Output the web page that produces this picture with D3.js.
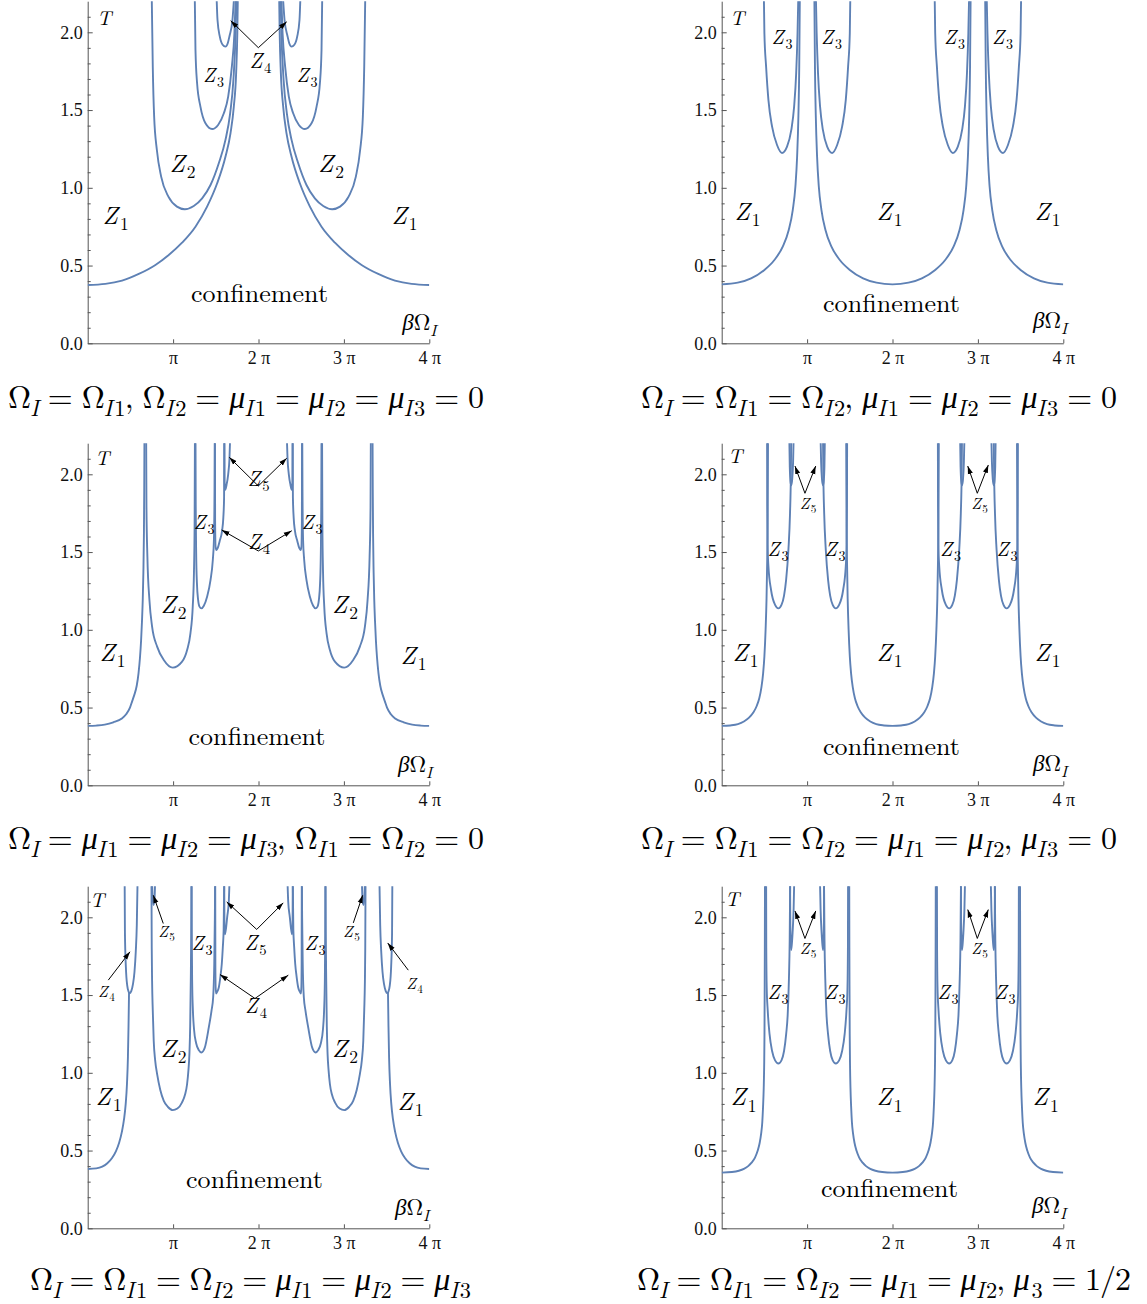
<!DOCTYPE html>
<html>
<head>
<meta charset="utf-8">
<title>Z_N phase diagrams</title>
<style>
  body { margin: 0; background: #fff; }
  svg { display: block; }
</style>
</head>
<body>
<div id="chart"></div>
<script src="https://d3js.org/d3.v7.min.js"></script>
<script>
// x values are in units of pi, y values are T

// ---- ticks
const xTickVals = [1, 2, 3, 4];
const xTickLabels = ["π", "2 π", "3 π", "4 π"];
const yMajor = [0, 0.5, 1, 1.5, 2];
const yMajorLabels = ["0.0", "0.5", "1.0", "1.5", "2.0"];
const yMinor = [0.1, 0.2, 0.3, 0.4, 0.6, 0.7, 0.8, 0.9, 1.1, 1.2, 1.3, 1.4, 1.6, 1.7, 1.8, 1.9, 2.1];

// ---- panel 1
const p1Z1a = [[0,0.375],[0.207,0.382],[0.402,0.403],[0.598,0.446],[0.793,0.504],[0.949,0.568],[1.105,0.647],[1.262,0.75],[1.398,0.879],[1.516,1.029],[1.613,1.2],[1.672,1.35],[1.711,1.522],[1.738,1.736],[1.752,1.994],[1.76,2.3]];
const p1Z1b = [[2.24,2.3],[2.248,1.994],[2.262,1.736],[2.289,1.522],[2.328,1.35],[2.387,1.2],[2.484,1.029],[2.602,0.879],[2.738,0.75],[2.895,0.647],[3.051,0.568],[3.207,0.504],[3.402,0.446],[3.598,0.403],[3.793,0.382],[4,0.375]];
const p1Z2a = [[0.748,2.3],[0.762,1.779],[0.778,1.458],[0.81,1.243],[0.86,1.072],[0.945,0.943],[1.045,0.879],[1.137,0.862],[1.242,0.883],[1.34,0.932],[1.438,1.018],[1.535,1.158],[1.613,1.308],[1.668,1.479],[1.706,1.693],[1.732,1.994],[1.745,2.3]];
const p1Z2b = [[2.255,2.3],[2.268,1.994],[2.294,1.693],[2.332,1.479],[2.387,1.308],[2.465,1.158],[2.562,1.018],[2.66,0.932],[2.758,0.883],[2.863,0.862],[2.955,0.879],[3.055,0.943],[3.14,1.072],[3.19,1.243],[3.222,1.458],[3.238,1.779],[3.252,2.3]];
const p1Z3a = [[1.252,2.3],[1.262,1.886],[1.281,1.672],[1.32,1.522],[1.379,1.415],[1.457,1.378],[1.527,1.404],[1.594,1.479],[1.645,1.586],[1.688,1.779],[1.718,1.994],[1.738,2.3]];
const p1Z3b = [[2.262,2.3],[2.282,1.994],[2.312,1.779],[2.355,1.586],[2.406,1.479],[2.473,1.404],[2.543,1.378],[2.621,1.415],[2.68,1.522],[2.719,1.672],[2.738,1.886],[2.748,2.3]];
const p1Z4a = [[1.505,2.3],[1.52,2.079],[1.547,1.972],[1.58,1.92],[1.613,1.908],[1.64,1.93],[1.66,1.975],[1.695,2.079],[1.722,2.3]];
const p1Z4b = [[2.278,2.3],[2.305,2.079],[2.34,1.975],[2.36,1.93],[2.387,1.908],[2.42,1.92],[2.453,1.972],[2.48,2.079],[2.495,2.3]];

// ---- panel 2
const p2Z1a = [[0,0.379],[0.1875,0.39],[0.344,0.418],[0.5,0.472],[0.617,0.536],[0.715,0.622],[0.785,0.729],[0.832,0.857],[0.863,1.008],[0.883,1.2],[0.898,1.458],[0.908,1.779],[0.916,2.3]];
const p2Z1b = [[1.084,2.3],[1.092,1.779],[1.102,1.458],[1.117,1.2],[1.137,1.008],[1.168,0.857],[1.215,0.729],[1.285,0.622],[1.383,0.536],[1.5,0.472],[1.656,0.418],[1.8125,0.39],[2,0.379],[2.1875,0.39],[2.344,0.418],[2.5,0.472],[2.617,0.536],[2.715,0.622],[2.785,0.729],[2.832,0.857],[2.863,1.008],[2.883,1.2],[2.898,1.458],[2.908,1.779],[2.916,2.3]];
const p2Z1c = [[3.084,2.3],[3.092,1.779],[3.102,1.458],[3.117,1.2],[3.137,1.008],[3.168,0.857],[3.215,0.729],[3.285,0.622],[3.383,0.536],[3.5,0.472],[3.656,0.418],[3.8125,0.39],[4,0.379]];
const p2Z3a = [[0.492,2.3],[0.5,1.994],[0.52,1.779],[0.547,1.565],[0.59,1.393],[0.648,1.275],[0.706,1.224],[0.765,1.265],[0.815,1.372],[0.848,1.522],[0.872,1.736],[0.888,1.994],[0.9,2.3]];
const p2Z3b = [[1.1,2.3],[1.112,1.994],[1.128,1.736],[1.152,1.522],[1.185,1.372],[1.235,1.265],[1.294,1.224],[1.352,1.275],[1.41,1.393],[1.453,1.565],[1.48,1.779],[1.5,1.994],[1.508,2.3]];
const p2Z3c = [[2.492,2.3],[2.5,1.994],[2.52,1.779],[2.547,1.565],[2.59,1.393],[2.648,1.275],[2.706,1.224],[2.765,1.265],[2.815,1.372],[2.848,1.522],[2.872,1.736],[2.888,1.994],[2.9,2.3]];
const p2Z3d = [[3.1,2.3],[3.112,1.994],[3.128,1.736],[3.152,1.522],[3.185,1.372],[3.235,1.265],[3.294,1.224],[3.352,1.275],[3.41,1.393],[3.453,1.565],[3.48,1.779],[3.5,1.994],[3.508,2.3]];

// ---- panel 3
const p3Z1a = [[0,0.382],[0.1,0.384],[0.2,0.39],[0.3,0.405],[0.4,0.43],[0.45,0.457],[0.495,0.5],[0.52,0.54],[0.545,0.58],[0.574,0.64],[0.595,0.72],[0.612,0.82],[0.625,0.93],[0.636,1.06],[0.645,1.2],[0.652,1.37],[0.658,1.6],[0.662,1.9],[0.665,2.3]];
const p3Z1b = [[3.335,2.3],[3.338,1.9],[3.342,1.6],[3.348,1.37],[3.355,1.2],[3.364,1.06],[3.375,0.93],[3.388,0.82],[3.405,0.72],[3.426,0.64],[3.455,0.58],[3.48,0.54],[3.505,0.5],[3.55,0.457],[3.6,0.43],[3.7,0.405],[3.8,0.39],[3.9,0.384],[4,0.382]];
const p3Z2a = [[0.684,2.3],[0.688,1.79],[0.699,1.47],[0.723,1.19],[0.754,1.02],[0.813,0.892],[0.891,0.806],[0.996,0.757],[1.105,0.795],[1.164,0.87],[1.203,0.977],[1.23,1.149],[1.244,1.363],[1.252,1.685],[1.256,2.3]];
const p3Z2b = [[2.744,2.3],[2.748,1.685],[2.756,1.363],[2.77,1.149],[2.797,0.977],[2.836,0.87],[2.895,0.795],[3.004,0.757],[3.109,0.806],[3.187,0.892],[3.246,1.02],[3.277,1.19],[3.301,1.47],[3.312,1.79],[3.316,2.3]];
const p3Z3a = [[1.262,2.3],[1.265,1.8],[1.27,1.5],[1.279,1.3],[1.293,1.192],[1.309,1.149],[1.332,1.138],[1.36,1.155],[1.398,1.213],[1.438,1.32],[1.465,1.449],[1.478,1.578],[1.485,1.9],[1.488,2.3]];
const p3Z3b = [[2.512,2.3],[2.515,1.9],[2.522,1.578],[2.535,1.449],[2.562,1.32],[2.602,1.213],[2.64,1.155],[2.668,1.138],[2.691,1.149],[2.707,1.192],[2.721,1.3],[2.73,1.5],[2.735,1.8],[2.738,2.3]];
const p3Z4a = [[1.49,2.3],[1.492,1.7],[1.497,1.535],[1.508,1.513],[1.522,1.525],[1.545,1.57],[1.574,1.64],[1.588,1.72],[1.597,1.85],[1.6,2.3]];
const p3Z4b = [[2.4,2.3],[2.403,1.85],[2.412,1.72],[2.426,1.64],[2.455,1.57],[2.478,1.525],[2.492,1.513],[2.503,1.535],[2.508,1.7],[2.51,2.3]];
const p3Z5a = [[1.6,2.3],[1.603,1.95],[1.61,1.9],[1.625,1.93],[1.645,2.0],[1.66,2.1],[1.672,2.3]];
const p3Z5b = [[2.328,2.3],[2.34,2.1],[2.355,2.0],[2.375,1.93],[2.39,1.9],[2.397,1.95],[2.4,2.3]];

// ---- panel 4
const p4Z1a = [[0,0.382],[0.1,0.385],[0.19,0.393],[0.26,0.41],[0.32,0.435],[0.37,0.468],[0.41,0.51],[0.44,0.56],[0.465,0.63],[0.485,0.72],[0.5,0.83],[0.514,1.0],[0.525,1.2],[0.533,1.45],[0.539,1.75],[0.543,2.3]];
const p4Z1b = [[1.457,2.3],[1.461,1.75],[1.467,1.45],[1.475,1.2],[1.486,1.0],[1.5,0.83],[1.515,0.72],[1.535,0.63],[1.56,0.56],[1.59,0.51],[1.63,0.468],[1.68,0.435],[1.74,0.41],[1.81,0.393],[1.9,0.385],[2,0.382],[2.1,0.385],[2.19,0.393],[2.26,0.41],[2.32,0.435],[2.37,0.468],[2.41,0.51],[2.44,0.56],[2.465,0.63],[2.485,0.72],[2.5,0.83],[2.514,1.0],[2.525,1.2],[2.533,1.45],[2.539,1.75],[2.543,2.3]];
const p4Z1c = [[3.457,2.3],[3.461,1.75],[3.467,1.45],[3.475,1.2],[3.486,1.0],[3.5,0.83],[3.515,0.72],[3.535,0.63],[3.56,0.56],[3.59,0.51],[3.63,0.468],[3.68,0.435],[3.74,0.41],[3.81,0.393],[3.9,0.385],[4,0.382]];
const p4Z3a = [[0.531,2.3],[0.533,1.8],[0.537,1.55],[0.547,1.41],[0.578,1.256],[0.625,1.16],[0.664,1.138],[0.7,1.16],[0.73,1.22],[0.754,1.32],[0.781,1.513],[0.8,1.75],[0.81,2.0],[0.815,2.3]];
const p4Z3b = [[1.185,2.3],[1.19,2.0],[1.2,1.75],[1.219,1.513],[1.246,1.32],[1.27,1.22],[1.3,1.16],[1.336,1.138],[1.375,1.16],[1.422,1.256],[1.453,1.41],[1.463,1.55],[1.467,1.8],[1.469,2.3]];
const p4Z3c = [[2.531,2.3],[2.533,1.8],[2.537,1.55],[2.547,1.41],[2.578,1.256],[2.625,1.16],[2.664,1.138],[2.7,1.16],[2.73,1.22],[2.754,1.32],[2.781,1.513],[2.8,1.75],[2.81,2.0],[2.815,2.3]];
const p4Z3d = [[3.185,2.3],[3.19,2.0],[3.2,1.75],[3.219,1.513],[3.246,1.32],[3.27,1.22],[3.3,1.16],[3.336,1.138],[3.375,1.16],[3.422,1.256],[3.453,1.41],[3.463,1.55],[3.467,1.8],[3.469,2.3]];
const p4Z5a = [[0.79,2.3],[0.797,2.05],[0.806,1.95],[0.815,1.93],[0.826,1.97],[0.836,2.08],[0.845,2.3]];
const p4Z5b = [[1.155,2.3],[1.164,2.08],[1.174,1.97],[1.185,1.93],[1.194,1.95],[1.203,2.05],[1.21,2.3]];
const p4Z5c = [[2.79,2.3],[2.797,2.05],[2.806,1.95],[2.815,1.93],[2.826,1.97],[2.836,2.08],[2.845,2.3]];
const p4Z5d = [[3.155,2.3],[3.164,2.08],[3.174,1.97],[3.185,1.93],[3.194,1.95],[3.203,2.05],[3.21,2.3]];

// ---- panel 5
const p5Z1a = [[0,0.381],[0.1,0.385],[0.17,0.396],[0.23,0.418],[0.285,0.452],[0.33,0.495],[0.368,0.55],[0.4,0.62],[0.425,0.7],[0.445,0.8],[0.46,0.93],[0.471,1.1],[0.478,1.3],[0.484,1.52]];
const p5Z1b = [[3.516,1.52],[3.522,1.3],[3.529,1.1],[3.54,0.93],[3.555,0.8],[3.575,0.7],[3.6,0.62],[3.632,0.55],[3.67,0.495],[3.715,0.452],[3.77,0.418],[3.83,0.396],[3.9,0.385],[4,0.381]];
const p5Z4a = [[0.432,2.3],[0.436,1.9],[0.447,1.68],[0.463,1.56],[0.48,1.52],[0.492,1.512],[0.51,1.525],[0.53,1.57],[0.548,1.65],[0.563,1.78],[0.575,1.95],[0.586,2.3]];
const p5Z4d = [[3.414,2.3],[3.425,1.95],[3.437,1.78],[3.452,1.65],[3.47,1.57],[3.49,1.525],[3.508,1.512],[3.52,1.52],[3.537,1.56],[3.553,1.68],[3.564,1.9],[3.568,2.3]];
const p5Z2a = [[0.746,2.3],[0.75,1.8],[0.754,1.59],[0.762,1.4],[0.773,1.206],[0.79,1.08],[0.813,0.992],[0.85,0.89],[0.891,0.82],[0.94,0.78],[0.996,0.76],[1.05,0.77],[1.105,0.81],[1.14,0.86],[1.164,0.928],[1.18,1.02],[1.191,1.12],[1.2,1.3],[1.207,1.59],[1.212,1.9],[1.215,2.3]];
const p5Z2b = [[2.785,2.3],[2.788,1.9],[2.793,1.59],[2.8,1.3],[2.809,1.12],[2.82,1.02],[2.836,0.928],[2.86,0.86],[2.895,0.81],[2.95,0.77],[3.004,0.76],[3.06,0.78],[3.109,0.82],[3.15,0.89],[3.187,0.992],[3.21,1.08],[3.227,1.206],[3.238,1.4],[3.246,1.59],[3.25,1.8],[3.254,2.3]];
const p5Z5a = [[0.752,2.3],[0.758,2.15],[0.768,2.08],[0.779,2.1],[0.787,2.18],[0.792,2.3]];
const p5Z5d = [[3.208,2.3],[3.213,2.18],[3.221,2.1],[3.232,2.08],[3.242,2.15],[3.248,2.3]];
const p5Z3a = [[1.217,2.3],[1.219,1.9],[1.223,1.59],[1.232,1.4],[1.245,1.28],[1.27,1.19],[1.3,1.146],[1.332,1.131],[1.37,1.16],[1.418,1.292],[1.45,1.4],[1.469,1.485],[1.482,1.7],[1.489,2.0],[1.493,2.3]];
const p5Z3b = [[2.507,2.3],[2.511,2.0],[2.518,1.7],[2.531,1.485],[2.55,1.4],[2.582,1.292],[2.63,1.16],[2.668,1.131],[2.7,1.146],[2.73,1.19],[2.755,1.28],[2.768,1.4],[2.777,1.59],[2.781,1.9],[2.783,2.3]];
const p5Z4b = [[1.493,2.3],[1.495,1.7],[1.498,1.55],[1.504,1.51],[1.515,1.52],[1.535,1.549],[1.555,1.624],[1.57,1.7],[1.582,1.806],[1.592,1.92],[1.6,2.3]];
const p5Z4c = [[2.4,2.3],[2.408,1.92],[2.418,1.806],[2.43,1.7],[2.445,1.624],[2.465,1.549],[2.485,1.52],[2.496,1.51],[2.502,1.55],[2.505,1.7],[2.507,2.3]];
const p5Z5b = [[1.598,2.3],[1.601,1.95],[1.606,1.89],[1.62,1.93],[1.633,2.0],[1.652,2.1],[1.664,2.3]];
const p5Z5c = [[2.336,2.3],[2.348,2.1],[2.367,2.0],[2.38,1.93],[2.394,1.89],[2.399,1.95],[2.402,2.3]];

// ---- panel 6
const p6Z1a = [[0,0.358],[0.12,0.362],[0.2,0.37],[0.26,0.382],[0.31,0.4],[0.35,0.422],[0.39,0.455],[0.422,0.5],[0.445,0.55],[0.461,0.606],[0.475,0.68],[0.484,0.778],[0.492,0.9],[0.497,1.035],[0.501,1.25],[0.503,1.5],[0.505,1.8],[0.507,2.3]];
const p6Z1b = [[1.493,2.3],[1.495,1.8],[1.497,1.5],[1.499,1.25],[1.503,1.035],[1.508,0.9],[1.516,0.778],[1.525,0.68],[1.539,0.606],[1.555,0.55],[1.578,0.5],[1.61,0.455],[1.65,0.422],[1.69,0.4],[1.74,0.382],[1.8,0.37],[1.88,0.362],[2,0.358],[2.12,0.362],[2.2,0.37],[2.26,0.382],[2.31,0.4],[2.35,0.422],[2.39,0.455],[2.422,0.5],[2.445,0.55],[2.461,0.606],[2.475,0.68],[2.484,0.778],[2.492,0.9],[2.497,1.035],[2.501,1.25],[2.503,1.5],[2.505,1.8],[2.507,2.3]];
const p6Z1c = [[3.493,2.3],[3.495,1.8],[3.497,1.5],[3.499,1.25],[3.503,1.035],[3.508,0.9],[3.516,0.778],[3.525,0.68],[3.539,0.606],[3.555,0.55],[3.578,0.5],[3.61,0.455],[3.65,0.422],[3.69,0.4],[3.74,0.382],[3.8,0.37],[3.88,0.362],[4,0.358]];
const p6Z3a = [[0.52,2.3],[0.522,1.8],[0.527,1.55],[0.539,1.4],[0.56,1.25],[0.59,1.14],[0.625,1.08],[0.664,1.06],[0.7,1.08],[0.73,1.14],[0.755,1.25],[0.773,1.377],[0.787,1.6],[0.796,1.85],[0.803,2.3]];
const p6Z3b = [[1.197,2.3],[1.204,1.85],[1.213,1.6],[1.227,1.377],[1.245,1.25],[1.27,1.14],[1.3,1.08],[1.336,1.06],[1.375,1.08],[1.41,1.14],[1.44,1.25],[1.461,1.4],[1.473,1.55],[1.478,1.8],[1.48,2.3]];
const p6Z3c = [[2.52,2.3],[2.522,1.8],[2.527,1.55],[2.539,1.4],[2.56,1.25],[2.59,1.14],[2.625,1.08],[2.664,1.06],[2.7,1.08],[2.73,1.14],[2.755,1.25],[2.773,1.377],[2.787,1.6],[2.796,1.85],[2.803,2.3]];
const p6Z3d = [[3.197,2.3],[3.204,1.85],[3.213,1.6],[3.227,1.377],[3.245,1.25],[3.27,1.14],[3.3,1.08],[3.336,1.06],[3.375,1.08],[3.41,1.14],[3.44,1.25],[3.461,1.4],[3.473,1.55],[3.478,1.8],[3.48,2.3]];
const p6Z5a = [[0.8,2.3],[0.803,2.0],[0.807,1.85],[0.812,1.79],[0.82,1.82],[0.83,1.9],[0.842,2.05],[0.852,2.3]];
const p6Z5b = [[1.148,2.3],[1.158,2.05],[1.17,1.9],[1.18,1.82],[1.188,1.79],[1.193,1.85],[1.197,2.0],[1.2,2.3]];
const p6Z5c = [[2.8,2.3],[2.803,2.0],[2.807,1.85],[2.812,1.79],[2.82,1.82],[2.83,1.9],[2.842,2.05],[2.852,2.3]];
const p6Z5d = [[3.148,2.3],[3.158,2.05],[3.17,1.9],[3.18,1.82],[3.188,1.79],[3.193,1.85],[3.197,2.0],[3.2,2.3]];

// ---- labels: [text, x, T, kind]
const panel1Labels = [["T",0.109,2.05,"axisT"],["Z_{4}",2.023,1.77,"mid"],["Z_{3}",1.473,1.68,"z3"],["Z_{3}",2.568,1.68,"z3"],["Z_{2}",1.11,1.102,"big"],["Z_{2}",2.849,1.102,"big"],["Z_{1}",0.326,0.767,"big"],["Z_{1}",3.71,0.767,"big"],["confinement",2.012,0.266,"conf"],["βΩ_{I}",3.683,0.086,"axisX"]];
const panel2Labels = [["T",0.097,2.05,"axisT"],["Z_{3}",0.706,1.925,"z3"],["Z_{3}",1.286,1.925,"z3"],["Z_{3}",2.726,1.925,"z3"],["Z_{3}",3.288,1.925,"z3"],["Z_{1}",0.302,0.793,"big"],["Z_{1}",1.965,0.793,"big"],["Z_{1}",3.815,0.793,"big"],["confinement",1.988,0.201,"conf"],["βΩ_{I}",3.645,0.098,"axisX"]];
const panel3Labels = [["T",0.085,2.06,"axisT"],["Z_{5}",2.0,1.925,"mid"],["Z_{4}",2.006,1.521,"mid"],["Z_{3}",1.362,1.65,"z3"],["Z_{3}",2.626,1.65,"z3"],["Z_{2}",1.005,1.108,"big"],["Z_{2}",3.013,1.108,"big"],["Z_{1}",0.29,0.799,"big"],["Z_{1}",3.815,0.78,"big"],["confinement",1.982,0.259,"conf"],["βΩ_{I}",3.634,0.086,"axisX"]];
const panel4Labels = [["T",0.074,2.073,"axisT"],["Z_{5}",1.011,1.777,"tiny"],["Z_{5}",3.019,1.777,"tiny"],["Z_{3}",0.659,1.475,"z3"],["Z_{3}",1.327,1.475,"z3"],["Z_{3}",2.679,1.475,"z3"],["Z_{3}",3.341,1.475,"z3"],["Z_{1}",0.279,0.799,"big"],["Z_{1}",1.965,0.799,"big"],["Z_{1}",3.815,0.799,"big"],["confinement",1.988,0.195,"conf"],["βΩ_{I}",3.645,0.092,"axisX"]];
const panel5Labels = [["T",0.027,2.065,"axisT"],["Z_{5}",0.923,1.872,"tiny"],["Z_{3}",1.338,1.789,"z3"],["Z_{5}",1.965,1.789,"mid"],["Z_{3}",2.662,1.789,"z3"],["Z_{5}",3.089,1.872,"tiny"],["Z_{4}",0.22,1.487,"tiny"],["Z_{4}",1.971,1.384,"mid"],["Z_{4}",3.827,1.538,"tiny"],["Z_{2}",1.005,1.101,"big"],["Z_{2}",3.013,1.101,"big"],["Z_{1}",0.244,0.792,"big"],["Z_{1}",3.78,0.76,"big"],["confinement",1.953,0.259,"conf"],["βΩ_{I}",3.598,0.086,"axisX"]];
const panel6Labels = [["T",0.039,2.071,"axisT"],["Z_{5}",1.011,1.763,"tiny"],["Z_{5}",3.019,1.763,"tiny"],["Z_{3}",0.659,1.474,"z3"],["Z_{3}",1.327,1.474,"z3"],["Z_{3}",2.65,1.474,"z3"],["Z_{3}",3.318,1.474,"z3"],["Z_{1}",0.255,0.79,"big"],["Z_{1}",1.965,0.79,"big"],["Z_{1}",3.792,0.79,"big"],["confinement",1.965,0.201,"conf"],["βΩ_{I}",3.633,0.098,"axisX"]];

// ---- arrows: [x from, T from, x tip, T tip]
const panel1Arrows = [[1.998,1.901,1.674,2.075],[1.998,1.901,2.33,2.068]];
const panel2Arrows = [];
const panel3Arrows = [[1.998,1.925,1.658,2.109],[1.998,1.925,2.33,2.103],[1.998,1.507,1.569,1.642],[1.998,1.507,2.389,1.637]];
const panel4Arrows = [[0.975,1.878,0.858,2.053],[0.975,1.878,1.101,2.053],[2.993,1.878,2.881,2.053],[2.993,1.878,3.122,2.06]];
const panel5Arrows = [[0.885,1.96,0.768,2.142],[1.979,1.922,1.628,2.099],[1.979,1.922,2.29,2.093],[3.11,1.964,3.22,2.142],[0.241,1.596,0.495,1.778],[1.959,1.478,1.549,1.632],[1.959,1.478,2.349,1.628],[3.754,1.66,3.513,1.835]];
const panel6Arrows = [[0.975,1.864,0.858,2.041],[0.975,1.864,1.101,2.041],[2.993,1.864,2.881,2.05],[2.993,1.864,3.122,2.05]];

// ---- captions
const captions = [
  "Ω_{I} = Ω_{I1}, Ω_{I2} = μ_{I1} = μ_{I2} = μ_{I3} = 0",
  "Ω_{I} = Ω_{I1} = Ω_{I2}, μ_{I1} = μ_{I2} = μ_{I3} = 0",
  "Ω_{I} = μ_{I1} = μ_{I2} = μ_{I3}, Ω_{I1} = Ω_{I2} = 0",
  "Ω_{I} = Ω_{I1} = Ω_{I2} = μ_{I1} = μ_{I2}, μ_{I3} = 0",
  "Ω_{I} = Ω_{I1} = Ω_{I2} = μ_{I1} = μ_{I2} = μ_{I3}",
  "Ω_{I} = Ω_{I1} = Ω_{I2} = μ_{I1} = μ_{I2}, μ_{3} = 1/2"
];

const panelCurves = [
  [p1Z1a, p1Z1b, p1Z2a, p1Z2b, p1Z3a, p1Z3b, p1Z4a, p1Z4b],
  [p2Z1a, p2Z1b, p2Z1c, p2Z3a, p2Z3b, p2Z3c, p2Z3d],
  [p3Z1a, p3Z1b, p3Z2a, p3Z2b, p3Z3a, p3Z3b, p3Z4a, p3Z4b, p3Z5a, p3Z5b],
  [p4Z1a, p4Z1b, p4Z1c, p4Z3a, p4Z3b, p4Z3c, p4Z3d, p4Z5a, p4Z5b, p4Z5c, p4Z5d],
  [p5Z1a, p5Z1b, p5Z4a, p5Z4d, p5Z2a, p5Z2b, p5Z5a, p5Z5d, p5Z3a, p5Z3b, p5Z4b, p5Z4c, p5Z5b, p5Z5c],
  [p6Z1a, p6Z1b, p6Z1c, p6Z3a, p6Z3b, p6Z3c, p6Z3d, p6Z5a, p6Z5b, p6Z5c, p6Z5d]
];
const panelLabels = [panel1Labels, panel2Labels, panel3Labels, panel4Labels, panel5Labels, panel6Labels];
const panelArrows = [panel1Arrows, panel2Arrows, panel3Arrows, panel4Arrows, panel5Arrows, panel6Arrows];

// layout
const W = 1147, H = 1304;
const plotW = 341.6, unitH = 155.5, tMax = 2.2;
const tickFont = '"Liberation Serif"';
const texFont = '"Latin Modern Roman"';
const layout = [
  {left: 87.7,  base: 343.3,  capX: 8,   capW: 476, capY: 408},
  {left: 721.7, base: 343.3,  capX: 641, capW: 476, capY: 408},
  {left: 87.7,  base: 785.3,  capX: 8,   capW: 476, capY: 849},
  {left: 721.7, base: 785.3,  capX: 641, capW: 476, capY: 849},
  {left: 87.7,  base: 1228.3, capX: 30,  capW: 441, capY: 1290},
  {left: 721.7, base: 1228.3, capX: 637, capW: 494, capY: 1290}
];
const labelStyle = {
  big:   {size: 25, anchor: "middle"},
  mid:   {size: 21, anchor: "middle"},
  z3:    {size: 20, anchor: "middle"},
  tiny:  {size: 16, anchor: "middle"},
  conf:  {size: 26, anchor: "middle", plain: true, len: 137},
  axisT: {size: 20, anchor: "start"},
  axisX: {size: 23, anchor: "start"}
};
const blue = "#5e81b5";

const svg = d3.select("#chart").append("svg")
  .attr("width", W).attr("height", H);

svg.append("defs").append("marker")
  .attr("id", "ah")
  .attr("viewBox", "0 0 10 10")
  .attr("refX", 10).attr("refY", 5)
  .attr("markerWidth", 8).attr("markerHeight", 8)
  .attr("markerUnits", "userSpaceOnUse")
  .attr("orient", "auto")
  .append("path").attr("d", "M0,1.8L10,5L0,8.2z").attr("fill", "#000");

// write math-like text: letters italic, Greek capitals upright, _{..} subscripts
function mathText(sel, str, size) {
  const segs = [];
  let i = 0, sub = false;
  while (i < str.length) {
    if (str.startsWith("_{", i)) { sub = true; i += 2; continue; }
    if (sub && str[i] === "}") { sub = false; i++; continue; }
    const ch = str[i];
    const ital = /[A-Za-zβμ]/.test(ch);
    const last = segs[segs.length - 1];
    if (last && last.sub === sub && last.ital === ital) last.t += ch;
    else segs.push({t: ch, sub: sub, ital: ital});
    i++;
  }
  let down = false;
  segs.forEach((s, k) => {
    const fs = s.sub ? size * 0.7 : size;
    const ts = sel.append("tspan").text(s.t)
      .style("font-family", texFont)
      .style("font-style", s.ital ? "italic" : "normal")
      .style("font-size", fs + "px");
    const prev = segs[k - 1];
    // italic correction: keep an upright glyph clear of a slanted one before it
    if (prev && prev.ital && !s.ital && /^[0-9]/.test(s.t)) ts.attr("dx", fs * 0.12);
    if (s.sub && !down) { ts.attr("dy", size * 0.25); down = true; }
    else if (!s.sub && down) { ts.attr("dy", -size * 0.25); down = false; }
  });
}

panelCurves.forEach((curves, i) => {
  const L = layout[i];
  const x = d3.scaleLinear().domain([0, 4]).range([L.left, L.left + plotW]);
  const y = d3.scaleLinear().domain([0, tMax]).range([L.base, L.base - tMax * unitH]);
  const g = svg.append("g");

  g.append("clipPath").attr("id", "clip" + i)
    .append("rect")
    .attr("x", x(0)).attr("y", y(tMax))
    .attr("width", x(4) - x(0)).attr("height", y(0) - y(tMax));

  // axes
  const yAxis = g.append("g")
    .attr("transform", `translate(${x(0)},0)`)
    .call(d3.axisLeft(y).tickValues(yMajor).tickSize(-5).tickSizeOuter(0).tickPadding(5)
      .tickFormat((d, k) => yMajorLabels[k]));
  g.append("g")
    .attr("transform", `translate(${x(0)},0)`)
    .call(d3.axisLeft(y).tickValues(yMinor).tickSize(-3).tickSizeOuter(0).tickFormat(""))
    .call(a => a.select(".domain").remove());
  const xAxis = g.append("g")
    .attr("transform", `translate(0,${y(0)})`)
    .call(d3.axisBottom(x).tickValues(xTickVals).tickSize(-4).tickSizeOuter(0).tickPadding(8)
      .tickFormat((d, k) => xTickLabels[k]));
  g.selectAll(".tick line, .domain").attr("stroke", "#555").attr("stroke-width", 1);
  [yAxis, xAxis].forEach(a => a.selectAll("text")
    .style("font-family", tickFont).style("font-size", "18px").attr("fill", "#111"));

  // curves
  const line = d3.line()
    .x(d => x(d[0])).y(d => y(d[1]))
    .curve(d3.curveMonotoneX);
  g.append("g").attr("clip-path", `url(#clip${i})`)
    .selectAll("path").data(curves).join("path")
    .attr("d", line)
    .attr("fill", "none")
    .attr("stroke", blue)
    .attr("stroke-width", 1.9);

  // arrows
  g.selectAll("line.arrow").data(panelArrows[i]).join("line")
    .attr("class", "arrow")
    .attr("x1", d => x(d[0])).attr("y1", d => y(d[1]))
    .attr("x2", d => x(d[2])).attr("y2", d => y(d[3]))
    .attr("stroke", "#000").attr("stroke-width", 1)
    .attr("marker-end", "url(#ah)");

  // labels
  panelLabels[i].forEach(lb => {
    const st = labelStyle[lb[3]];
    const t = g.append("text")
      .attr("x", x(lb[1])).attr("y", y(lb[2]))
      .attr("text-anchor", st.anchor)
      .style("font-family", texFont)
      .style("font-size", st.size + "px")
      .attr("fill", "#000")
      .attr("xml:space", "preserve");
    if (st.plain) t.text(lb[0]).attr("textLength", st.len).attr("lengthAdjust", "spacing");
    else mathText(t, lb[0], st.size);
  });

  // caption
  const cap = svg.append("text")
    .attr("x", L.capX).attr("y", L.capY)
    .style("font-family", texFont)
    .style("font-size", "32px")
    .attr("fill", "#000")
    .attr("xml:space", "preserve")
    .attr("textLength", L.capW)
    .attr("lengthAdjust", "spacing");
  mathText(cap, captions[i], 32);
});
</script>
</body>
</html>
